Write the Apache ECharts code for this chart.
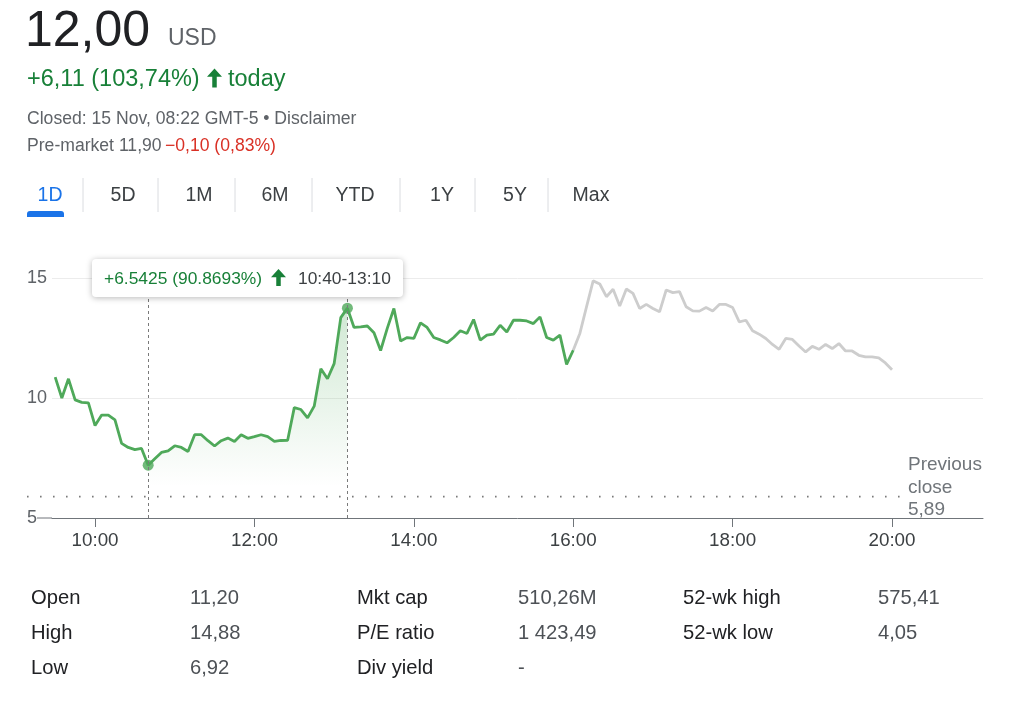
<!DOCTYPE html>
<html>
<head>
<meta charset="utf-8">
<script src="https://cdn.jsdelivr.net/npm/echarts@6/dist/echarts.min.js"></script>
<style>
html,body{margin:0;padding:0;background:#fff;}
#chart{width:1024px;height:704px;}
</style>
</head>
<body>
<div id="chart"></div>
<script>
// ---------- data ----------
const regularStart = '09:30';      // first regular-session point
const afterStart = '16:00';        // first after-hours point
const stepMinutes = 5;
const regularValues = [
  10.87, 10.00, 10.80, 9.92, 9.82, 9.80, 8.85, 9.29, 9.29, 9.09,
  8.11, 7.94, 7.85, 7.90, 7.20, 7.47, 7.73, 7.80, 8.01, 7.94,
  7.77, 8.47, 8.47, 8.22, 8.00, 8.22, 8.33, 8.19, 8.47, 8.32,
  8.39, 8.47, 8.39, 8.19, 8.23, 8.24, 9.60, 9.52, 9.17, 9.66,
  11.22, 10.80, 11.43, 13.35, 13.7425, 12.94, 12.96, 13.00, 12.72, 11.98,
  12.90, 13.73, 12.38, 12.52, 12.48, 13.13, 12.94, 12.52, 12.42, 12.30,
  12.52, 12.80, 12.69, 13.27, 12.41, 12.62, 12.66, 13.03, 12.75, 13.24,
  13.24, 13.21, 13.10, 13.38, 12.52, 12.41, 12.62, 11.40, 11.99
];
const afterHoursValues = [
  11.99, 12.69, 13.80, 14.88, 14.75, 14.22, 14.53, 13.83, 14.54, 14.36,
  13.73, 13.90, 13.73, 13.59, 14.50, 14.39, 14.43, 13.80, 13.63, 13.62,
  13.77, 13.63, 13.90, 13.90, 13.77, 13.17, 13.24, 12.80, 12.66, 12.48,
  12.23, 12.03, 12.48, 12.44, 12.17, 11.92, 12.15, 12.03, 12.23, 12.06,
  12.27, 11.96, 11.96, 11.78, 11.71, 11.71, 11.67, 11.46, 11.18
];
const previousClose = 5.89;
const selectionStart = '10:40';
const selectionEnd = '13:10';
const xTickLabels = ['10:00', '12:00', '14:00', '16:00', '18:00', '20:00'];
const yTickValues = [5, 10, 15];

const headerPrice = '12,00';
const headerCurrency = 'USD';
const headerChange = '+6,11 (103,74%)';
const headerToday = 'today';
const headerClosed = 'Closed: 15 Nov, 08:22 GMT-5 • Disclaimer';
const preMarketLabel = 'Pre-market 11,90';
const preMarketChange = '−0,10 (0,83%)';
const tooltipChange = '+6.5425 (90.8693%)';
const previousCloseText = 'Previous\nclose\n5,89';
const tabs = ['1D', '5D', '1M', '6M', 'YTD', '1Y', '5Y', 'Max'];
const statLabels1 = ['Open', 'High', 'Low'];
const statValues1 = ['11,20', '14,88', '6,92'];
const statLabels2 = ['Mkt cap', 'P/E ratio', 'Div yield'];
const statValues2 = ['510,26M', '1 423,49', '-'];
const statLabels3 = ['52-wk high', '52-wk low'];
const statValues3 = ['575,41', '4,05'];

// ---------- helpers ----------
function toMin(s){ const p = s.split(':'); return (+p[0]) * 60 + (+p[1]); }
function fmt(m){ const h = Math.floor(m / 60), mm = Math.round(m % 60); return (h < 10 ? '0' : '') + h + ':' + (mm < 10 ? '0' : '') + mm; }
const regularData = regularValues.map((v, i) => [toMin(regularStart) + i * stepMinutes, v]);
const afterData = afterHoursValues.map((v, i) => [toMin(afterStart) + i * stepMinutes, v]);
const selStartMin = toMin(selectionStart), selEndMin = toMin(selectionEnd);
const selectionData = regularData.filter(d => d[0] >= selStartMin && d[0] <= selEndMin);
const selectionDots = [selectionData[0], selectionData[selectionData.length - 1]];

const GREEN = '#4fa95a';
const TEXT_GREEN = '#188038';
const GRAY_LINE = '#cdcdcd';
const FONT = '"Liberation Sans", Arial, Helvetica, sans-serif';

const chart = echarts.init(document.getElementById('chart'), null, {renderer: 'canvas'});

const option = {
  animation: false,
  backgroundColor: '#ffffff',
  textStyle: {fontFamily: FONT},
  grid: {left: 52, right: 41, top: 278, bottom: 186, containLabel: false},
  xAxis: {
    type: 'value',
    min: 567.6,
    max: 1268.5,
    axisLine: {show: true, lineStyle: {color: '#70757a', width: 1}},
    axisTick: {show: true, length: 9, lineStyle: {color: '#70757a'}, customValues: xTickLabels.map(toMin)},
    axisLabel: {
      customValues: xTickLabels.map(toMin),
      formatter: v => fmt(v),
      color: '#3c4043', fontSize: 18.8, fontFamily: FONT, margin: 13
    },
    splitLine: {show: false}
  },
  yAxis: {
    type: 'value',
    min: 5, max: 15, interval: 5,
    axisLine: {show: false},
    axisTick: {show: false},
    axisLabel: {
      customValues: yTickValues,
      color: '#5f6368', fontSize: 18, fontFamily: FONT, align: 'left', margin: 25
    },
    splitLine: {show: true, lineStyle: {color: '#ececec', width: 1}}
  },
  series: [
    {
      name: 'selection',
      type: 'line',
      data: selectionData,
      symbol: 'none',
      lineStyle: {width: 0},
      areaStyle: {
        origin: 'start',
        color: new echarts.graphic.LinearGradient(0, 0, 0, 1, [
          {offset: 0, color: 'rgba(79,169,90,0.38)'},
          {offset: 0.85, color: 'rgba(79,169,90,0.0)'}
        ])
      },
      z: 1,
      silent: true
    },
    {
      name: 'regular',
      type: 'line',
      data: regularData,
      symbol: 'none',
      lineStyle: {color: GREEN, width: 2.8},
      z: 3,
      markLine: {
        silent: true,
        symbol: 'none',
        label: {show: false},
        lineStyle: {color: '#7a7a7a', type: [3, 3], width: 1},
        data: [{xAxis: selStartMin}, {xAxis: selEndMin}]
      }
    },
    {
      name: 'after',
      type: 'line',
      data: afterData,
      symbol: 'none',
      lineStyle: {color: GRAY_LINE, width: 2.8},
      z: 2
    },
    {
      name: 'dots',
      type: 'scatter',
      data: selectionDots,
      symbolSize: 11,
      itemStyle: {color: GREEN},
      z: 4
    }
  ]
};
chart.setOption(option);

// ---------- decorations (positions from the library's scales) ----------
const yPrev = chart.convertToPixel({yAxisIndex: 0}, previousClose);
const yBase = chart.convertToPixel({yAxisIndex: 0}, 5);

const g = [];
function txt(x, y, text, size, color, extra, z){
  g.push({type: 'text', x: x, y: y, z: z || 20, style: Object.assign({
    text: text, fill: color, font: size + 'px ' + FONT, verticalAlign: 'middle', align: 'left'
  }, extra || {})});
}
function upArrow(cx, top, h, w, color, z){
  const hh = w * 0.55, sw = w * 0.15;
  g.push({type: 'polygon', z: z || 20, shape: {points: [
    [cx, top], [cx + w / 2, top + hh], [cx + sw, top + hh], [cx + sw, top + h],
    [cx - sw, top + h], [cx - sw, top + hh], [cx - w / 2, top + hh]
  ]}, style: {fill: color}});
}

// header
txt(25, 32, headerPrice, 50, '#202124');
txt(168, 39, headerCurrency, 23, '#5f6368');
txt(27, 79.5, headerChange, 23.5, TEXT_GREEN);
upArrow(214.5, 68.5, 19, 15, TEXT_GREEN);
txt(228, 79.5, headerToday, 23.5, TEXT_GREEN);
txt(27, 119, headerClosed, 17.6, '#5f6368');
g.push({type: 'text', x: 27, y: 146, z: 20, style: {
  text: '{a|' + preMarketLabel + '} {b|' + preMarketChange + '}',
  verticalAlign: 'middle',
  rich: {
    a: {fill: '#5f6368', font: '17.6px ' + FONT},
    b: {fill: '#d93025', font: '17.6px ' + FONT}
  }
}});

// tabs
const tabCenters = [50, 123, 199, 275, 355, 442, 515, 591];
const tabSeps = [83, 158, 235, 312, 400, 475, 548];
tabs.forEach((t, i) => {
  txt(tabCenters[i], 196, t, 19.5, i === 0 ? '#1a73e8' : '#3c4043', {align: 'center'});
});
tabSeps.forEach(x => {
  g.push({type: 'line', z: 20, shape: {x1: x, y1: 178, x2: x, y2: 212}, style: {stroke: '#dadce0', lineWidth: 1}});
});
g.push({type: 'rect', z: 20, shape: {x: 27, y: 211, width: 37, height: 6, r: [3, 3, 0, 0]}, style: {fill: '#1a73e8'}});

// previous close dotted line and axis stub
g.push({type: 'line', z: 5, shape: {x1: 27, y1: yPrev, x2: 900, y2: yPrev},
  style: {stroke: '#7a7a7a', lineWidth: 1.6, lineDash: [1.6, 11.4]}});
g.push({type: 'line', z: 5, shape: {x1: 37, y1: yBase, x2: 52, y2: yBase},
  style: {stroke: '#70757a', lineWidth: 1}});
g.push({type: 'text', x: 908, y: 454, z: 20, style: {
  text: previousCloseText, fill: '#70757a', font: '19px ' + FONT, lineHeight: 22.5, verticalAlign: 'top', align: 'left'
}});

// tooltip box
g.push({type: 'rect', z: 30, shape: {x: 92, y: 259, width: 311, height: 38, r: 4},
  style: {fill: '#ffffff', shadowBlur: 6, shadowColor: 'rgba(0,0,0,0.28)', shadowOffsetY: 1}});
txt(104, 279, tooltipChange, 17.4, TEXT_GREEN, {}, 31);
upArrow(278.5, 269, 17, 15, TEXT_GREEN, 31);
txt(298, 279, selectionStart + '-' + selectionEnd, 17.4, '#3c4043', {}, 31);

// key stats table
const rowsY = [598, 633, 668];
statLabels1.forEach((s, i) => { txt(31, rowsY[i], s, 20.2, '#202124'); txt(190, rowsY[i], statValues1[i], 20.2, '#4d5156'); });
statLabels2.forEach((s, i) => { txt(357, rowsY[i], s, 20.2, '#202124'); txt(518, rowsY[i], statValues2[i], 20.2, '#4d5156'); });
statLabels3.forEach((s, i) => { txt(683, rowsY[i], s, 20.2, '#202124'); txt(878, rowsY[i], statValues3[i], 20.2, '#4d5156'); });

chart.setOption({graphic: g});
</script>
</body>
</html>
